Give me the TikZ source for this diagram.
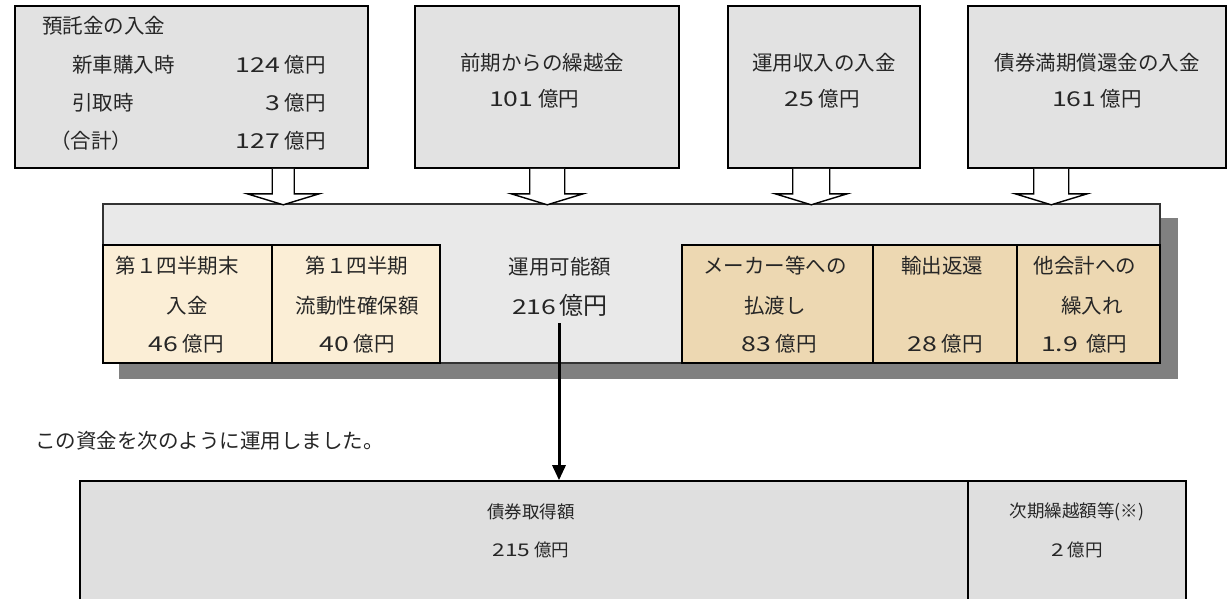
\documentclass[tikz,border=0pt]{standalone}
\usepackage{fontspec}
\setmainfont{Noto Sans CJK JP}
\newfontfamily\digitfont[FakeStretch=1.3]{Noto Sans CJK JP}
\newcommand\dg[1]{{\digitfont #1}}
\usetikzlibrary{calc,arrows.meta}
\definecolor{texgray}{HTML}{E2E2E2}
\definecolor{bandgray}{HTML}{E9E9E9}
\definecolor{cream}{HTML}{FBEED6}
\definecolor{tanc}{HTML}{EDD8B2}
\definecolor{botgray}{HTML}{DFDFDF}
\definecolor{shadowgray}{HTML}{808080}
\begin{document}
\begin{tikzpicture}[x=1pt,y=-1pt,
  topbox/.style={draw=black, line width=1.6pt, fill=texgray, inner sep=0, minimum height=162pt},
  bandbox/.style={draw=black!80, line width=1.2pt, fill=bandgray, inner sep=0},
  cellc/.style={draw=black, line width=1.6pt, fill=cream, inner sep=0, minimum height=118pt},
  cellt/.style={draw=black, line width=1.6pt, fill=tanc, inner sep=0, minimum height=118pt},
  botbox/.style={draw=black, line width=1.6pt, fill=botgray, inner sep=0, minimum height=159pt},
  blockarrow/.style={draw=black, line width=1.4pt, fill=white, line join=miter},
  txt/.style={inner sep=0, text=black!85, font=\fontsize{20.5}{20.5}\selectfont},
  btxt/.style={inner sep=0, text=black!85, font=\fontsize{17.5}{17.5}\selectfont}]
\useasboundingbox (0,0) rectangle (1228,598);
\clip (0,0) rectangle (1228,598);
\fill[white] (0,0) rectangle (1228,598);

% top boxes
\node[topbox, minimum width=353pt] (b1) at (191.5,87) {};
\node[topbox, minimum width=264pt] (b2) at (547,87) {};
\node[topbox, minimum width=192pt] (b3) at (824,87) {};
\node[topbox, minimum width=258pt] (b4) at (1097,87) {};

\node[txt, anchor=west] (t11) at (42,26) {預託金の入金};
\node[txt, anchor=west] (t12) at (72,65) {新車購入時};
\node[txt, anchor=east] (t13) at (326,65) {\dg{124} 億円};
\node[txt, anchor=west] (t14) at (72,103) {引取時};
\node[txt, anchor=east] (t15) at (326,103) {\dg{3} 億円};
\node[txt, anchor=west] (t16) at (50,141) {（合計）};
\node[txt, anchor=east] (t17) at (326,141) {\dg{127} 億円};

\node[txt] (t21) at (542,63) {前期からの繰越金};
\node[txt, anchor=west] (t22) at (489,99) {\dg{101} 億円};
\node[txt] (t31) at (824,63) {運用収入の入金};
\node[txt] (t32) at (822,99) {\dg{25} 億円};
\node[txt] (t41) at (1097,63) {債券満期償還金の入金};
\node[txt] (t42) at (1097,99) {\dg{161} 億円};

% band with shadow
\node[bandbox, minimum width=1057pt, minimum height=159pt] (band) at (631.5,283.5) {};
\fill[shadowgray] ($(band.north east)+(0,15)$) rectangle ($(band.south east)+(17,15)$);
\fill[shadowgray] ($(band.south west)+(17,0)$) rectangle ($(band.south east)+(17,15)$);

% block arrows from top boxes to band
\foreach \n/\dx/\hw in {b1/269/11, b2/133/17.5, b3/84/18.5, b4/84/17.5} {
  \draw[blockarrow]
    ($(\n.south west)+(\dx-\hw,0)$) -- ($(\n.south west)+(\dx-\hw,25)$)
    -- ($(\n.south west)+(\dx-36,25)$) -- ($(\n.south west)+(\dx,36)$)
    -- ($(\n.south west)+(\dx+36,25)$) -- ($(\n.south west)+(\dx+\hw,25)$)
    -- ($(\n.south west)+(\dx+\hw,0)$);
}

% cells
\node[cellc, minimum width=169pt] (c1) at (187.5,304) {};
\node[cellc, minimum width=168pt] (c2) at (356,304) {};
\node[cellt, minimum width=191pt] (c3) at (777.5,304) {};
\node[cellt, minimum width=144pt] (c4) at (945,304) {};
\node[cellt, minimum width=143pt] (c5) at (1088.5,304) {};

\node[txt] (c1a) at (177,266) {第１四半期末};
\node[txt] (c1b) at (187,306) {入金};
\node[txt] (c1c) at (186,344) {\dg{46} 億円};
\node[txt] (c2a) at (357,266) {第１四半期};
\node[txt] (c2b) at (357,306) {流動性確保額};
\node[txt] (c2c) at (357,344) {\dg{40} 億円};
\node[txt] (c3a) at (775,266) {メーカー等への};
\node[txt] (c3b) at (775,306) {払渡し};
\node[txt] (c3c) at (779,344) {\dg{83} 億円};
\node[txt] (c4a) at (942,266) {輸出返還};
\node[txt] (c4c) at (945,344) {\dg{28} 億円};
\node[txt] (c5a) at (1085,266) {他会計への};
\node[txt] (c5b) at (1092,306) {繰入れ};
\node[txt] (c5c) at (1084,344) {\dg{1.9}\, 億円};

\node[txt] (avail) at (560,267) {運用可能額};
\node[txt] (availv) at (560,305) {\dg{216}\,{\fontsize{24}{24}\selectfont 億円}};

\node[txt, anchor=west] (note) at (35,441) {この資金を次のように運用しました。};

% bottom boxes
\node[botbox, minimum width=888pt] (bond) at (524,560.5) {};
\node[botbox, minimum width=218pt] (nextc) at (1077,560.5) {};
\node[btxt] (bd1) at (531,512) {債券取得額};
\node[btxt] (bd2) at (531,550) {\dg{215} 億円};
\node[btxt] (nx1) at (1077,512) {次期繰越額等(※)};
\node[btxt] (nx2) at (1077,550) {\dg{2} 億円};

% down arrow
\coordinate (dstart) at (559,323);
\draw[line width=3pt, -{Triangle[width=13pt,length=15pt]}] (dstart) -- (dstart |- bond.north);
\end{tikzpicture}
\end{document}
